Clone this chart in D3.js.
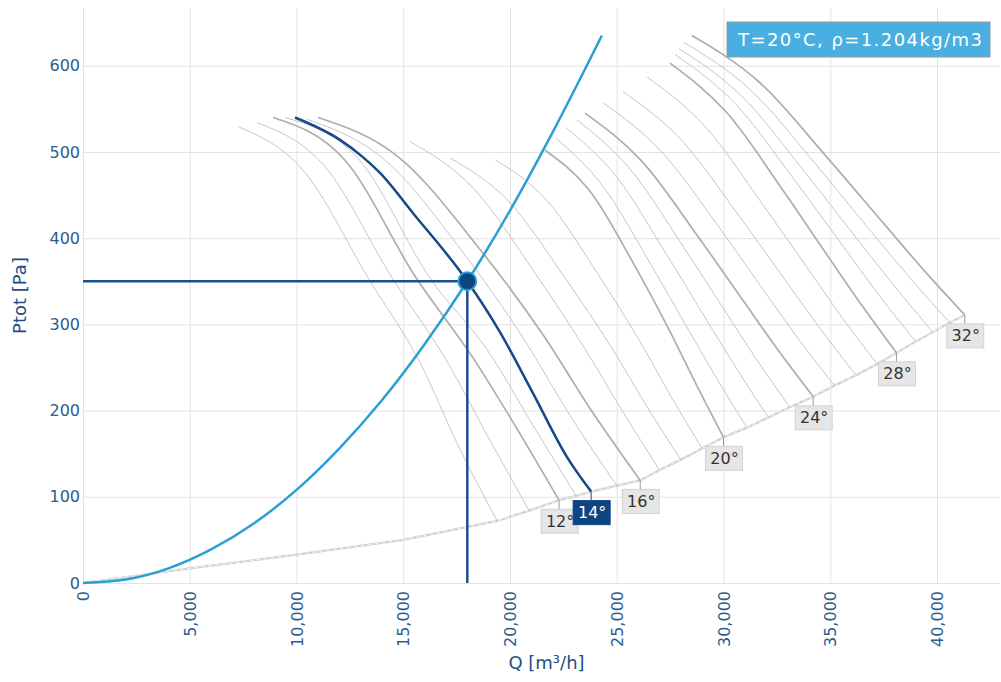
<!DOCTYPE html>
<html>
<head>
<meta charset="utf-8">
<title>Fan curves</title>
<script src="https://cdn.jsdelivr.net/npm/d3@7"></script>
<style>
  body { margin: 0; background: #fff; }
  text { font-family: "DejaVu Sans", Verdana, sans-serif; }
</style>
</head>
<body>
<svg id="chart" width="1001" height="682"></svg>
<script>
// axis ticks
const xTicks = [0, 5000, 10000, 15000, 20000, 25000, 30000, 35000, 40000];
const yTicks = [0, 100, 200, 300, 400, 500, 600];

// blade angle curves, Q [m3/h] vs Ptot [Pa]
const bladeAngles = [10, 11, 12, 13, 14, 15, 16, 17, 18, 19, 20, 21, 22, 23, 24, 25, 26, 27, 28, 29, 30, 31, 32];
const labelledAngles = [12, 14, 16, 20, 24, 28, 32];
const thickAngles = [12, 16, 20, 24, 28, 32];
const selectedAngle = 14;
const fanCurves = [
  [[7300,529],[10300,479],[13400,352],[15800,255],[17600,158],[19400,72]],
  [[8150,534],[11300,484],[14500,353],[17100,255],[19000,168],[20900,84]],
  [[8900,540],[12250,491],[15600,354],[18300,260],[20300,180],[22300,96]],
  [[9460,540],[12900,492],[16300,352],[19000,268],[21050,184],[23100,101]],
  [[9930,540],[12040,514],[13110,494],[13900,476],[15460,429],[18000,350],[19530,291],[21080,220],[22670,146],[23800,106]],
  [[10490,538],[14120,491],[17750,385],[20650,283],[22820,194],[25000,113]],
  [[11010,540],[14780,494],[18560,388],[21570,287],[23840,199],[26100,119]],
  [[15320,512],[18240,459],[21160,360],[23500,272],[25250,200],[27000,131]],
  [[17190,493],[19890,444],[22600,353],[24760,273],[26380,206],[28000,143]],
  [[19300,491],[21720,444],[24150,357],[26090,280],[27550,216],[29000,156]],
  [[21640,502],[23730,455],[25820,369],[27490,292],[28750,229],[30000,169]],
  [[22150,516],[24390,459],[26630,368],[28420,291],[29760,234],[31100,180]],
  [[22620,528],[24990,471],[27360,380],[29260,303],[30680,246],[32100,192]],
  [[23140,537],[25630,480],[28120,390],[30110,314],[31610,257],[33100,204]],
  [[23510,545],[26180,489],[28860,400],[30990,325],[32590,269],[34200,216]],
  [[24360,557],[27070,501],[29780,413],[31950,337],[33570,281],[35200,229]],
  [[25290,570],[28020,514],[30750,425],[32930,350],[34560,294],[36200,241]],
  [[26420,587],[29120,530],[31810,440],[33970,364],[35580,307],[37200,254]],
  [[27490,603],[30140,546],[32800,455],[34920,378],[36510,321],[38100,267]],
  [[27730,613],[30550,556],[33370,466],[35620,390],[37310,333],[39000,280]],
  [[27910,620],[30880,564],[33860,475],[36230,400],[38020,344],[39800,291]],
  [[28150,627],[31260,572],[34380,484],[36870,409],[38730,354],[40600,302]],
  [[28520,635],[31720,580],[34910,492],[37470,418],[39380,363],[41300,311]]
];

// lower limit line (left part, then it follows the curve ends)
const lowerLimit = [[0,0],[5000,17],[10000,33],[15000,50]];

// system curve and duty point
const systemCurve = [[0,0],[2000,4],[4000,17],[6000,39],[8000,69],[10000,108],[12000,156],[14000,212],[16000,277],[18000,350],[20000,432],[22000,523],[24300,635]];
const operatingPoint = [18000, 350];
const legendText = "T=20°C, ρ=1.204kg/m3";

const svg = d3.select("#chart");
const plotLeft = 83, plotRight = 1000, plotTop = 8, plotBottom = 583;

const x = d3.scaleLinear().domain([0, 42950]).range([plotLeft, plotRight]);
const y = d3.scaleLinear().domain([0, 667]).range([plotBottom, plotTop]);

const axisBlue = "#2d5c8f";

// grid
svg.append("g")
  .attr("transform", "translate(0," + plotBottom + ")")
  .call(d3.axisBottom(x).tickValues(xTicks).tickSize(-(plotBottom - plotTop)).tickFormat(""))
  .call(g => g.select(".domain").remove())
  .call(g => g.selectAll("line").attr("stroke", "#e3e3e3"));
svg.append("g")
  .attr("transform", "translate(" + plotLeft + ",0)")
  .call(d3.axisLeft(y).tickValues(yTicks).tickSize(-(plotRight - plotLeft)).tickFormat(""))
  .call(g => g.select(".domain").remove())
  .call(g => g.selectAll("line").attr("stroke", "#e3e3e3"));

const line = d3.line()
  .x(d => x(d[0]))
  .y(d => y(d[1]))
  .curve(d3.curveMonotoneX);

// lower limit, through all curve ends
const limitPoints = lowerLimit.concat(fanCurves.map(c => c[c.length - 1]));
const straight = d3.line().x(d => x(d[0])).y(d => y(d[1]));
svg.append("path").attr("d", straight(limitPoints))
  .attr("fill", "none").attr("stroke", "#cfcfcf").attr("stroke-width", 2.2);
svg.append("path").attr("d", straight(limitPoints))
  .attr("fill", "none").attr("stroke", "#fff").attr("stroke-width", 0.8)
  .attr("stroke-dasharray", "4,3");

// grey blade angle curves
bladeAngles.forEach((a, i) => {
  if (a === selectedAngle) return;
  const thick = thickAngles.includes(a);
  svg.append("path")
    .attr("d", line(fanCurves[i]))
    .attr("fill", "none")
    .attr("stroke", thick ? "#adadad" : "#c0c0c0")
    .attr("stroke-width", thick ? 1.7 : 0.9);
});

// system curve
svg.append("path")
  .attr("d", line(systemCurve))
  .attr("fill", "none")
  .attr("stroke", "#2b9fd5")
  .attr("stroke-width", 2.5);

// selected fan curve
const selIdx = bladeAngles.indexOf(selectedAngle);
svg.append("path")
  .attr("d", line(fanCurves[selIdx]))
  .attr("fill", "none")
  .attr("stroke", "#16498a")
  .attr("stroke-width", 2.5);

// duty point cross lines
svg.append("line")
  .attr("x1", x(0)).attr("x2", x(operatingPoint[0]))
  .attr("y1", y(operatingPoint[1])).attr("y2", y(operatingPoint[1]))
  .attr("stroke", "#1a4f8f").attr("stroke-width", 2.5);
svg.append("line")
  .attr("x1", x(operatingPoint[0])).attr("x2", x(operatingPoint[0]))
  .attr("y1", y(operatingPoint[1])).attr("y2", y(0))
  .attr("stroke", "#1a4f8f").attr("stroke-width", 2.5);
svg.append("circle")
  .attr("cx", x(operatingPoint[0])).attr("cy", y(operatingPoint[1]))
  .attr("r", 9)
  .attr("fill", "#0f4483")
  .attr("stroke", "#2b9fd5").attr("stroke-width", 2);

// angle labels
labelledAngles.forEach(a => {
  const c = fanCurves[bladeAngles.indexOf(a)];
  const end = c[c.length - 1];
  const cx = x(end[0]), cy = y(end[1]);
  const sel = a === selectedAngle;
  const g = svg.append("g");
  g.append("line")
    .attr("x1", cx).attr("x2", cx).attr("y1", cy).attr("y2", cy + 10)
    .attr("stroke", sel ? "#16498a" : "#999").attr("stroke-width", 1);
  g.append("rect")
    .attr("x", cx - 18).attr("y", cy + 9)
    .attr("width", 37).attr("height", 24)
    .attr("fill", sel ? "#0f4483" : "#e6e6e6")
    .attr("stroke", sel ? "#0f4483" : "#d2d2d2");
  g.append("text")
    .attr("x", cx + 1).attr("y", cy + 21)
    .attr("dy", "0.35em")
    .attr("text-anchor", "middle")
    .attr("font-size", 16)
    .attr("fill", sel ? "#fff" : "#333")
    .text(a + "°");
});

// axes labels
const yAxis = svg.append("g")
  .attr("transform", "translate(" + plotLeft + ",0)")
  .call(d3.axisLeft(y).tickValues(yTicks).tickSize(0).tickPadding(3));
yAxis.select(".domain").remove();
yAxis.selectAll("text").attr("font-size", 16).attr("fill", axisBlue)
  .attr("font-family", "DejaVu Sans, sans-serif");

const xAxis = svg.append("g")
  .attr("transform", "translate(0," + plotBottom + ")")
  .call(d3.axisBottom(x).tickValues(xTicks).tickSize(0).tickFormat(d3.format(",")));
xAxis.select(".domain").remove();
xAxis.selectAll("text")
  .attr("transform", "rotate(-90)")
  .attr("x", -8).attr("y", 0).attr("dy", "0.35em")
  .style("text-anchor", "end")
  .attr("font-size", 16).attr("fill", axisBlue)
  .attr("font-family", "DejaVu Sans, sans-serif");

svg.append("text")
  .attr("x", (plotLeft + plotRight) / 2 + 5).attr("y", 663)
  .attr("dy", "0.35em")
  .attr("text-anchor", "middle")
  .attr("font-size", 18).attr("fill", "#1f4e85")
  .text("Q [m³/h]");
svg.append("text")
  .attr("transform", "translate(20," + (plotTop + plotBottom) / 2 + ") rotate(-90)")
  .attr("dy", "0.35em")
  .attr("text-anchor", "middle")
  .attr("font-size", 18).attr("fill", "#1f4e85")
  .text("Ptot [Pa]");

// legend box
svg.append("rect")
  .attr("x", 727).attr("y", 22).attr("width", 263).attr("height", 35)
  .attr("fill", "#48afe0").attr("stroke", "#9a9a9a").attr("stroke-width", 1);
svg.append("text")
  .attr("x", 860).attr("y", 40).attr("dy", "0.35em")
  .attr("text-anchor", "middle")
  .attr("font-size", 18).attr("fill", "#fff")
  .attr("textLength", 244).attr("lengthAdjust", "spacing")
  .text(legendText);
</script>
</body>
</html>
